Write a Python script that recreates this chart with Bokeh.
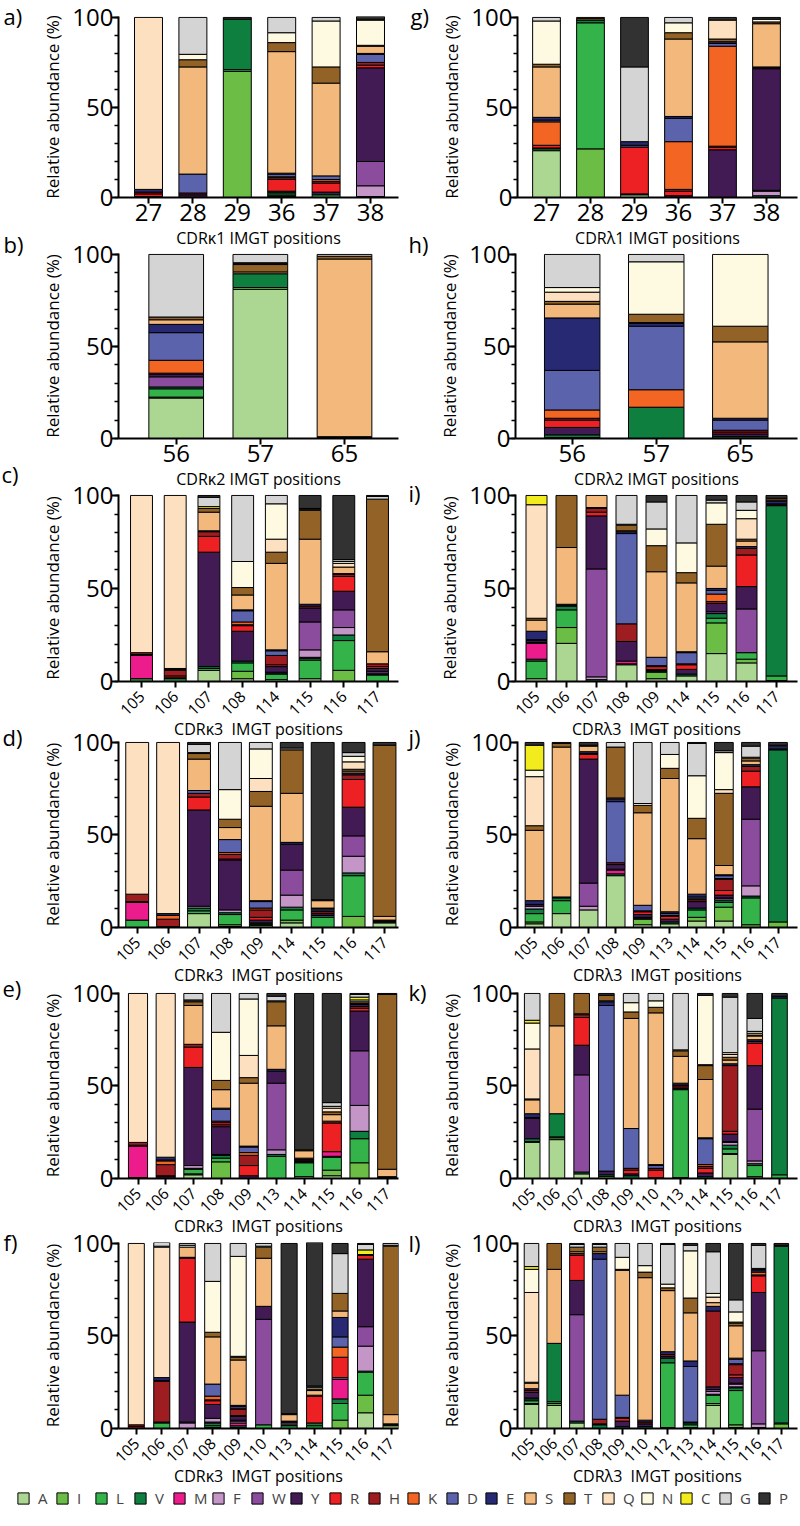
import math
from bokeh.plotting import figure
from bokeh.models import Range1d, FixedTicker, SingleIntervalTicker, Legend, LegendItem
from bokeh.layouts import column, row
from bokeh.embed import file_html
from bokeh.resources import INLINE

FONT = "Open Sans"

AA = ["A", "I", "L", "V", "M", "F", "W", "Y", "R", "H", "K", "D", "E", "S", "T", "Q", "N", "C", "G", "P"]
AA_COLORS = ["#acd793", "#6bbd45", "#34b34a", "#0f7f40", "#ec1c8d", "#c495c7", "#8b4c9e", "#421b55",
             "#ed2024", "#9e1d21", "#f26522", "#5b63ad", "#272a73", "#f3b87b", "#936226", "#fde0c0",
             "#fefae2", "#f2eb1e", "#d4d4d4", "#323232"]

# ---------------- data (percent of each residue at each position) ----------------
POS_A = ["27", "28", "29", "36", "37", "38"]
BARS_A = [
    {"Y": 0.5, "R": 1.5, "H": 1, "E": 1.5, "Q": 95.5},
    {"Y": 1.5, "H": 1, "D": 10.5, "S": 59.5, "T": 4, "N": 3, "G": 20.5},
    {"I": 70, "L": 1, "V": 28, "P": 1},
    {"A": 0.5, "I": 0.5, "L": 1, "V": 1, "Y": 0.5, "R": 6.5, "H": 1, "K": 0.5, "D": 1.5, "E": 0.5, "S": 67.5, "T": 5, "N": 5.5, "G": 8.5},
    {"L": 1.5, "Y": 1.5, "R": 5, "H": 1, "K": 1, "D": 2, "S": 51.5, "T": 9, "N": 25.5, "G": 2},
    {"V": 0.5, "F": 6, "W": 13.5, "Y": 52, "R": 1.5, "H": 1.5, "D": 4.5, "E": 0.5, "S": 4, "T": 0.5, "N": 14, "G": 0.5, "P": 1.5},
]

POS_G = ["27", "28", "29", "36", "37", "38"]
BARS_G = [
    {"A": 26, "L": 1, "V": 0.5, "R": 1.5, "K": 13, "D": 1, "E": 1.5, "S": 28, "T": 1.5, "N": 24, "G": 2},
    {"I": 27, "L": 70, "V": 1.5, "T": 1, "G": 0.5},
    {"A": 1.5, "Y": 0.5, "R": 26, "D": 1, "E": 2, "G": 41.5, "P": 27.5},
    {"Y": 1, "R": 2.5, "H": 1, "K": 26.5, "D": 13, "E": 1, "S": 43, "T": 3.5, "N": 5.5, "G": 3},
    {"Y": 26.5, "R": 1.5, "H": 0.5, "K": 55.5, "D": 1.5, "E": 1, "T": 1.5, "Q": 10.5, "P": 1.5},
    {"V": 1, "F": 2.5, "W": 0.5, "Y": 67.5, "H": 0.5, "E": 0.5, "S": 24, "T": 1, "N": 1.5, "P": 1},
]

POS_B = ["56", "57", "65"]
BARS_B = [
    {"A": 22, "I": 0.5, "L": 4.5, "V": 1, "W": 5.5, "Y": 1.5, "H": 0.5, "K": 7, "D": 15, "E": 4.5, "S": 2.5, "T": 1.5, "G": 34},
    {"A": 81, "I": 1, "V": 7.5, "S": 1, "T": 4, "Q": 0.5, "N": 0.5, "G": 4.5},
    {"Y": 0.5, "H": 0.5, "S": 96.5, "T": 1.5, "G": 1},
]

POS_H = ["56", "57", "65"]
BARS_H = [
    {"A": 0.5, "V": 1.5, "Y": 4, "R": 4, "H": 1, "K": 4.5, "D": 21.5, "E": 28.5, "S": 7.5, "T": 1.5, "Q": 5, "N": 2.5, "G": 18},
    {"V": 17, "K": 9.5, "D": 34.5, "E": 1.5, "S": 0.5, "T": 4.5, "N": 28.5, "G": 4},
    {"V": 1, "Y": 1.5, "R": 1, "H": 1, "D": 5.5, "E": 1, "S": 41.5, "T": 8.5, "N": 39},
]

POS_C = ["105", "106", "107", "108", "114", "115", "116", "117"]
BARS_C = [
    {"L": 1.5, "M": 12.5, "R": 0.5, "H": 1, "Q": 84.5},
    {"L": 1.5, "Y": 0.5, "R": 1, "H": 3, "K": 0.5, "E": 0.5, "Q": 93},
    {"A": 6, "L": 1, "V": 1, "Y": 61.5, "R": 8.5, "H": 2.5, "E": 0.5, "S": 10, "T": 2, "C": 1, "G": 5, "P": 1},
    {"A": 1.5, "I": 4, "L": 4.5, "V": 1, "Y": 16, "R": 3, "H": 0.5, "K": 1.5, "D": 6, "E": 0.5, "S": 8, "T": 4, "N": 14, "G": 35.5},
    {"A": 1, "L": 3, "V": 0.5, "W": 0.5, "Y": 3, "R": 1, "H": 5, "D": 2.5, "E": 0.5, "S": 46.5, "T": 6, "Q": 7, "N": 19, "G": 4.5},
    {"A": 1.5, "L": 10, "V": 1, "M": 0.5, "F": 4, "W": 15, "Y": 7.5, "H": 1, "E": 1, "S": 35, "T": 15.5, "Q": 0.5, "G": 0.5, "P": 7},
    {"I": 6, "L": 16, "V": 3, "F": 4, "W": 9.5, "Y": 10, "R": 8, "H": 1, "E": 0.5, "S": 3.5, "Q": 2, "N": 1, "G": 1, "P": 34.5},
    {"L": 3.5, "V": 0.5, "F": 0.5, "W": 1, "Y": 1.5, "R": 1, "H": 1.5, "S": 6.5, "T": 82, "G": 1.5, "P": 0.5},
]

POS_I = ["105", "106", "107", "108", "109", "114", "115", "116", "117"]
BARS_I = [
    {"A": 1.5, "L": 9.5, "V": 1, "M": 8.5, "W": 0.5, "Y": 1, "D": 0.5, "E": 4.5, "S": 6, "T": 1, "Q": 61, "C": 5},
    {"A": 20.5, "I": 8.5, "L": 9.5, "V": 2, "Y": 0.5, "E": 0.5, "S": 30.5, "T": 28},
    {"V": 1, "F": 1.5, "W": 58, "Y": 28.5, "R": 2, "H": 2, "E": 0.5, "S": 6.5},
    {"A": 9, "I": 0.5, "M": 1.5, "Y": 10.5, "H": 9.5, "D": 48.5, "E": 1, "S": 0.5, "T": 3, "N": 0.5, "G": 15.5},
    {"A": 1.5, "I": 3.5, "L": 0.5, "V": 0.5, "Y": 0.5, "R": 1.5, "H": 0.5, "D": 4.5, "S": 46, "T": 14, "N": 9, "G": 14.5, "P": 3.5},
    {"A": 3, "V": 1, "Y": 2.5, "R": 2.5, "H": 0.5, "D": 6, "E": 0.5, "S": 37, "T": 5.5, "N": 16, "G": 25.5},
    {"A": 15, "I": 16.5, "L": 2.5, "V": 2.5, "W": 1, "Y": 4.5, "H": 1, "K": 4, "D": 2, "E": 1, "S": 12, "T": 22.5, "N": 11.5, "G": 1.5, "P": 2.5},
    {"A": 10, "I": 2, "L": 3.5, "W": 23.5, "Y": 12, "R": 17, "H": 3.5, "E": 1, "S": 3, "T": 1, "Q": 11, "N": 4.5, "G": 4.5, "P": 3.5},
    {"A": 0.5, "L": 2.5, "V": 91.5, "Y": 0.5, "H": 0.5, "E": 1.5, "S": 0.5, "T": 1, "P": 1.5},
]

POS_D = ["105", "106", "107", "108", "109", "114", "115", "116", "117"]
BARS_D = [
    {"L": 4, "M": 9.5, "R": 0.5, "H": 4, "Q": 82},
    {"Y": 0.5, "H": 4, "K": 2, "E": 1, "Q": 92.5},
    {"A": 7.5, "L": 1.5, "V": 1.5, "F": 1, "Y": 52, "R": 7, "H": 2, "D": 1.5, "S": 17, "T": 3, "N": 0.5, "G": 4.5, "P": 1},
    {"A": 0.5, "I": 1, "L": 5.5, "V": 1, "F": 1.5, "Y": 27, "R": 0.5, "H": 2.5, "K": 1, "D": 7, "S": 6.5, "T": 4.5, "N": 16, "G": 25.5},
    {"A": 1, "I": 0.5, "L": 0.5, "V": 0.5, "Y": 1.5, "R": 1.5, "H": 4, "K": 1, "D": 3.5, "E": 0.5, "S": 51, "T": 8, "Q": 7, "N": 16, "G": 3.5},
    {"A": 2.5, "I": 1.5, "L": 5.5, "V": 1.5, "F": 6.5, "W": 13.5, "Y": 14, "E": 1, "S": 26.5, "T": 23.5, "G": 1, "P": 3},
    {"L": 5.5, "V": 1, "Y": 1, "R": 1, "H": 0.5, "D": 1, "E": 0.5, "S": 4, "T": 0.5, "P": 85},
    {"I": 6, "L": 22, "V": 1.5, "F": 9, "W": 11, "Y": 15.5, "R": 15, "H": 2.5, "E": 1, "S": 1, "T": 1, "Q": 4, "N": 3, "G": 2, "P": 5.5},
    {"A": 2.5, "V": 0.5, "Y": 0.5, "H": 0.5, "S": 2, "T": 92.5, "P": 1.5},
]

POS_J = ["105", "106", "107", "108", "109", "113", "114", "115", "116", "117"]
BARS_J = [
    {"A": 2, "I": 1, "L": 4.5, "V": 2.5, "F": 1.5, "Y": 1, "E": 2, "S": 38, "T": 2.5, "Q": 26.5, "N": 3.5, "C": 13.5, "P": 1.5},
    {"A": 7.5, "L": 7, "V": 1.5, "E": 0.5, "S": 81, "T": 2, "P": 0.5},
    {"A": 9.5, "F": 2, "W": 12.5, "Y": 67, "R": 2.5, "H": 0.5, "E": 1, "S": 3, "T": 0.5, "P": 1.5},
    {"A": 28, "V": 1, "M": 2, "W": 0.5, "Y": 2.5, "H": 1, "D": 33, "E": 1.5, "S": 0.5, "T": 27.5, "G": 2.5},
    {"A": 1.5, "I": 3, "V": 0.5, "W": 0.5, "Y": 1.5, "R": 1.5, "H": 0.5, "D": 3, "S": 50, "T": 4, "N": 1, "G": 33},
    {"A": 2, "V": 1, "Y": 1.5, "R": 1.5, "H": 0.5, "D": 1, "E": 1, "S": 72, "T": 5.5, "N": 7.5, "G": 6.5},
    {"A": 3.5, "I": 2, "L": 4, "V": 1, "Y": 3.5, "H": 1, "K": 0.5, "D": 1, "E": 1.5, "S": 30, "T": 11, "N": 23, "G": 17.5, "P": 0.5},
    {"A": 3.5, "I": 7.5, "L": 2.5, "V": 1, "F": 1, "W": 0.5, "Y": 1.5, "R": 2.5, "H": 6, "K": 0.5, "D": 1.5, "E": 0.5, "S": 5, "T": 39, "Q": 2, "N": 20, "G": 1, "P": 4.5},
    {"I": 1.5, "L": 14.5, "V": 1, "F": 5.5, "W": 36, "Y": 17.5, "R": 8.5, "H": 2.5, "E": 1, "S": 2, "T": 1.5, "N": 0.5, "G": 6, "P": 2},
    {"I": 3, "V": 93, "Y": 0.5, "E": 1.5, "S": 0.5, "P": 1.5},
]

POS_E = ["105", "106", "107", "108", "109", "113", "114", "115", "116", "117"]
BARS_E = [
    {"V": 0.5, "M": 17, "R": 0.5, "H": 1.5, "Q": 80.5},
    {"Y": 1, "R": 0.5, "H": 6, "K": 2, "D": 0.5, "E": 1.5, "Q": 88.5},
    {"A": 2, "I": 0.5, "L": 2.5, "V": 0.5, "F": 1.5, "Y": 53, "R": 11, "H": 1.5, "S": 21, "T": 2, "Q": 0.5, "N": 0.5, "G": 3.5},
    {"I": 9, "L": 2, "V": 1.5, "W": 0.5, "Y": 15, "R": 1, "H": 1.5, "K": 0.5, "D": 6.5, "E": 0.5, "S": 10, "T": 5, "N": 26, "G": 21},
    {"Y": 1.5, "R": 5.5, "H": 5.5, "K": 1.5, "D": 3, "E": 0.5, "S": 34, "T": 3, "Q": 12, "N": 30.5, "G": 3},
    {"L": 12, "V": 1, "F": 2.5, "W": 36, "Y": 6.5, "E": 1, "S": 23.5, "T": 13, "N": 0.5, "G": 2.5, "P": 1.5},
    {"A": 1, "L": 7.5, "V": 0.5, "Y": 0.5, "R": 0.5, "H": 0.5, "E": 0.5, "S": 4, "T": 0.5, "P": 84.5},
    {"A": 1.5, "I": 3, "L": 7, "V": 0.5, "M": 2.5, "R": 15.5, "H": 1, "S": 3.5, "T": 1.5, "Q": 2, "N": 1, "G": 2, "P": 59},
    {"I": 8.5, "L": 13, "V": 4, "F": 14, "W": 29.5, "Y": 21.5, "R": 1.5, "H": 1, "E": 1, "S": 0.5, "T": 1, "N": 1, "C": 1.5, "G": 1.5, "P": 0.5},
    {"V": 0.5, "Y": 0.5, "S": 4, "T": 94.5, "P": 0.5},
]

POS_K = ["105", "106", "107", "108", "109", "110", "113", "114", "115", "116", "117"]
BARS_K = [
    {"A": 19.5, "I": 0.5, "V": 1.5, "Y": 11, "H": 0.5, "E": 2, "S": 7.5, "T": 0.5, "Q": 27, "N": 14, "C": 1.5, "G": 14.5},
    {"A": 21, "I": 1, "L": 0.5, "V": 12.5, "S": 47.5, "T": 17.5},
    {"A": 2.5, "V": 1, "W": 52.5, "Y": 16, "R": 15, "H": 1.5, "S": 0.5, "T": 11},
    {"A": 1, "V": 1, "Y": 2, "D": 89.5, "E": 2, "S": 0.5, "T": 3, "P": 1},
    {"V": 1.5, "Y": 1, "R": 2, "H": 1, "D": 21.5, "S": 59.5, "T": 3.5, "N": 5, "G": 5},
    {"Y": 0.5, "R": 4, "H": 1, "D": 1.5, "E": 0.5, "S": 82, "T": 3, "N": 3.5, "G": 4},
    {"A": 0.5, "L": 47.5, "V": 0.5, "Y": 0.5, "R": 1, "H": 0.5, "E": 1, "S": 14.5, "T": 3, "N": 0.5, "G": 30.5},
    {"V": 1, "Y": 2, "R": 2.5, "H": 1, "K": 1, "D": 14, "E": 0.5, "S": 31.5, "T": 7.5, "Q": 0.5, "N": 37.5, "P": 1},
    {"A": 13, "I": 0.5, "L": 2.5, "V": 2, "F": 1.5, "W": 0.5, "Y": 4, "R": 1.5, "H": 35.5, "E": 1, "S": 2, "T": 1.5, "Q": 1.5, "N": 1, "G": 30, "P": 2},
    {"I": 1, "L": 6, "V": 1, "F": 1.5, "W": 28, "Y": 23.5, "R": 12, "H": 1, "E": 1, "S": 2, "T": 0.5, "Q": 1, "N": 1, "G": 7, "P": 13.5},
    {"L": 2, "V": 95.5, "E": 1, "P": 1.5},
]

POS_F = ["105", "106", "107", "108", "109", "110", "113", "114", "115", "116", "117"]
BARS_F = [
    {"R": 1, "H": 1, "Q": 98},
    {"L": 3, "V": 0.5, "H": 22, "D": 0.5, "E": 1.5, "Q": 70.5, "N": 0.5, "G": 2},
    {"F": 3, "W": 0.5, "Y": 54, "R": 34.5, "H": 0.5, "S": 5.5, "N": 1, "G": 1},
    {"I": 0.5, "L": 1, "V": 1.5, "M": 0.5, "F": 2, "Y": 7.5, "R": 2, "H": 0.5, "K": 2, "D": 6.5, "S": 25.5, "T": 2.5, "N": 27.5, "G": 20.5},
    {"L": 0.5, "V": 1, "M": 1.5, "F": 1, "W": 0.5, "Y": 2, "R": 0.5, "H": 3.5, "K": 0.5, "D": 1, "E": 0.5, "S": 24.5, "T": 1.5, "Q": 0.5, "N": 54, "G": 7},
    {"L": 2, "W": 57, "Y": 7, "S": 26, "T": 6, "N": 0.5, "G": 1.5},
    {"L": 1.5, "V": 0.5, "F": 1, "W": 0.5, "E": 0.5, "S": 3.5, "T": 0.5, "P": 92},
    {"L": 1.5, "V": 1.5, "R": 14.5, "H": 0.5, "S": 2.5, "T": 0.5, "Q": 1, "N": 0.5, "G": 0.5, "P": 77.5},
    {"I": 4.5, "L": 9, "V": 2.5, "M": 10.5, "W": 1, "R": 11, "K": 5.5, "D": 5.5, "E": 10.5, "S": 3.5, "T": 9.5, "G": 21.5, "P": 5.5},
    {"A": 8.5, "I": 9.5, "L": 12.5, "V": 0.5, "F": 13.5, "W": 10.5, "Y": 36.5, "R": 2, "H": 0.5, "C": 2.5, "G": 3, "P": 0.5},
    {"A": 1.5, "V": 0.5, "Y": 0.5, "S": 5, "T": 91, "N": 0.5, "G": 1},
]

POS_L = ["105", "106", "107", "108", "109", "110", "112", "113", "114", "115", "116", "117"]
BARS_L = [
    {"A": 13, "I": 0.5, "L": 1.5, "V": 1, "W": 0.5, "Y": 3, "H": 1, "E": 1, "S": 3, "T": 0.5, "Q": 48.5, "N": 12.5, "C": 1.5, "G": 12.5},
    {"A": 12.5, "I": 1, "L": 1, "V": 31.5, "S": 40, "T": 14},
    {"A": 3, "V": 1, "W": 57.5, "Y": 18.5, "R": 13.5, "H": 1, "S": 1, "T": 2.5, "G": 1.5, "P": 0.5},
    {"V": 2, "Y": 0.5, "H": 2.5, "D": 86.5, "E": 3, "S": 1, "T": 2.5, "G": 1.5, "P": 0.5},
    {"V": 1, "Y": 3, "R": 1.5, "H": 0.5, "D": 12, "S": 67.5, "T": 0.5, "N": 6.5, "G": 7.5},
    {"V": 1, "Y": 1.5, "H": 1, "E": 1, "S": 77, "T": 3, "N": 3.5, "G": 12},
    {"A": 0.5, "L": 35, "V": 2.5, "Y": 1, "H": 1, "E": 1.5, "S": 33, "T": 1.5, "N": 2, "G": 21.5, "P": 0.5},
    {"A": 0.5, "L": 1.5, "V": 1, "Y": 0.5, "D": 30, "E": 3, "S": 26, "T": 8, "N": 25.5, "G": 3, "P": 1},
    {"A": 12.5, "I": 1, "L": 4.5, "V": 0.5, "F": 1.5, "W": 1, "Y": 1.5, "H": 41, "E": 2.5, "S": 2, "Q": 3, "N": 2, "G": 22.5, "P": 4.5},
    {"A": 0.5, "I": 1.5, "L": 18.5, "V": 1.5, "M": 0.5, "F": 1.5, "W": 0.5, "Y": 3, "R": 1.5, "H": 5.5, "K": 0.5, "D": 2.5, "E": 0.5, "S": 17.5, "T": 1.5, "Q": 0.5, "N": 5.5, "G": 6.5, "P": 30.5},
    {"V": 0.5, "F": 2, "W": 39.5, "Y": 31.5, "R": 9, "H": 0.5, "K": 1.5, "E": 1, "S": 0.5, "T": 0.5, "G": 12.5, "P": 1},
    {"I": 2.5, "L": 0.5, "V": 95.5, "E": 0.5, "P": 1},
]

K1 = "CDR\u03ba1 IMGT positions"
K2 = "CDR\u03ba2 IMGT positions"
K3 = "CDR\u03ba3\u00a0 IMGT positions"
L1 = "CDR\u03bb1 IMGT positions"
L2 = "CDR\u03bb2 IMGT positions"
L3 = "CDR\u03bb3\u00a0 IMGT positions"

# ---------------- layout (page pixel positions) ----------------
FIG_W = 400
COL_LEFT = [0, 400]
FRAME_RIGHT = [398, 797]
FRAME_TOP = [16, 253, 494, 741, 992, 1242]
FRAME_H = [181, 185, 187, 186, 186, 186]
BT, BB = 50, 72
YTOP = 100.5


def make_panel(pos, bars, col, rw, frame_left, first, last, bw, xtitle, rotated, tag, tag_x, tag_y):
    n = len(pos)
    ppu = (last - first) / (n - 1)
    fr = FRAME_RIGHT[col]
    x0 = -(first - frame_left) / ppu
    x1 = (n - 1) + (fr - last) / ppu
    fh = FRAME_H[rw]
    p = figure(width=FIG_W, height=BT + fh + BB, x_range=Range1d(x0, x1), y_range=Range1d(0, YTOP),
               output_backend="svg", toolbar_location=None,
               min_border_left=frame_left - COL_LEFT[col], min_border_right=COL_LEFT[col] + FIG_W - fr,
               min_border_top=BT, min_border_bottom=BB)
    p.outline_line_color = None
    p.background_fill_alpha = 0
    p.border_fill_alpha = 0
    p.xgrid.visible = False
    p.ygrid.visible = False

    # panel tag, e.g. "a)"
    p.title.text = tag
    p.title.align = "left"
    p.title.offset = tag_x - frame_left
    p.title.vertical_align = "bottom"
    p.title.standoff = -2 * ((tag_y - FRAME_TOP[rw]) + 15)
    p.title.text_font = FONT
    p.title.text_font_size = "22px"
    p.title.text_font_style = "normal"
    p.title.text_color = "black"

    cum = [0.0] * n
    for k, aa in enumerate(AA):
        xs, bs, ts = [], [], []
        for j, bar in enumerate(bars):
            v = bar.get(aa, 0)
            if v > 0:
                xs.append(j)
                bs.append(cum[j])
                ts.append(cum[j] + v)
                cum[j] += v
        if xs:
            p.vbar(x=xs, bottom=bs, top=ts, width=bw, fill_color=AA_COLORS[k],
                   line_color="black", line_width=1)

    xa = p.xaxis[0]
    xa.ticker = FixedTicker(ticks=list(range(n)))
    xa.major_label_overrides = {i: s for i, s in enumerate(pos)}
    xa.axis_line_width = 2
    xa.major_tick_line_width = 2
    xa.major_tick_out = 6
    xa.major_tick_in = 0
    xa.minor_tick_out = 0
    xa.minor_tick_in = 0
    xa.major_label_text_font = FONT
    xa.major_label_text_color = "black"
    xa.axis_label = xtitle
    xa.axis_label_text_font = FONT
    xa.axis_label_text_font_style = "normal"
    xa.axis_label_text_font_size = "16px"
    xa.axis_label_text_color = "black"
    if rotated:
        xa.major_label_orientation = math.pi / 4
        xa.major_label_text_font_size = "15.5px"
        xa.major_label_standoff = 6
        xa.axis_label_standoff = -6
    else:
        xa.major_label_text_font_size = "24px"
        xa.major_label_standoff = 0
        xa.axis_label_standoff = 3

    ya = p.yaxis[0]
    ya.ticker = SingleIntervalTicker(interval=50, num_minor_ticks=5)
    ya.axis_line_width = 2
    ya.major_tick_line_width = 2
    ya.minor_tick_line_width = 1.5
    ya.major_tick_out = 7
    ya.major_tick_in = 0
    ya.minor_tick_out = 4
    ya.minor_tick_in = 0
    ya.major_label_standoff = -2
    ya.major_label_text_font = FONT
    ya.major_label_text_font_size = "24px"
    ya.major_label_text_color = "black"
    ya.axis_label = "Relative abundance (%)"
    ya.axis_label_text_font = FONT
    ya.axis_label_text_font_style = "normal"
    ya.axis_label_text_font_size = "17px"
    ya.axis_label_text_color = "black"
    ya.axis_label_standoff = 5
    return p


pa = make_panel(POS_A, BARS_A, 0, 0, 118, 148, 370, 0.63, K1, False, "a)", 3, 15)
pg = make_panel(POS_G, BARS_G, 1, 0, 517, 546, 766, 0.63, L1, False, "g)", 410, 15)
pb = make_panel(POS_B, BARS_B, 0, 1, 118, 175.7, 344, 0.65, K2, False, "b)", 3, 243)
ph = make_panel(POS_H, BARS_H, 1, 1, 515, 571.7, 739.8, 0.66, L2, False, "h)", 408, 243)
pc = make_panel(POS_C, BARS_C, 0, 2, 118, 141, 377, 0.65, K3, True, "c)", 1, 473)
pi_ = make_panel(POS_I, BARS_I, 1, 2, 515, 536, 776, 0.70, L3, True, "i)", 408, 492)
pd = make_panel(POS_D, BARS_D, 0, 3, 118, 136.7, 384, 0.74, K3, True, "d)", 2, 736)
pj = make_panel(POS_J, BARS_J, 1, 3, 517, 534, 777.5, 0.69, L3, True, "j)", 408, 736)
pe = make_panel(POS_E, BARS_E, 0, 4, 118, 137.5, 386.7, 0.69, K3, True, "e)", 2, 987)
pk = make_panel(POS_K, BARS_K, 1, 4, 517, 531.7, 779, 0.63, L3, True, "k)", 408, 991)
pf = make_panel(POS_F, BARS_F, 0, 5, 118, 135.8, 390.5, 0.63, K3, True, "f)", 3, 1241)
pl = make_panel(POS_L, BARS_L, 1, 5, 517, 531, 780.8, 0.64, L3, True, "l)", 408, 1242)

# legend strip
LEG_TOP, LEG_H = 1478, 42
leg = figure(width=800, height=LEG_H, x_range=Range1d(0, 1), y_range=Range1d(0, 1),
             x_axis_type=None, y_axis_type=None, output_backend="svg", toolbar_location=None,
             min_border_left=0, min_border_right=0, min_border_top=0, min_border_bottom=0)
leg.outline_line_color = None
leg.background_fill_alpha = 0
leg.border_fill_alpha = 0
items = []
for k, aa in enumerate(AA):
    r = leg.vbar(x=[-10], bottom=[-10], top=[-9], width=0.5, fill_color=AA_COLORS[k],
                 line_color="black", line_width=1)
    items.append(LegendItem(label=aa, renderers=[r]))
legend = Legend(items=items, orientation="horizontal", location=(16, 12),
                glyph_width=14, glyph_height=14, label_standoff=8, label_width=16, label_height=14,
                spacing=1, padding=0, margin=0, border_line_color=None, background_fill_alpha=0,
                label_text_font=FONT, label_text_font_size="15px", label_text_baseline="middle")
leg.add_layout(legend, "center")

rows = [(pa, pg), (pb, ph), (pc, pi_), (pd, pj), (pe, pk), (pf, pl)]
children = []
prev_bottom = 0
for i, (left, right) in enumerate(rows):
    top = FRAME_TOP[i] - BT
    children.append(row(left, right, margin=(top - prev_bottom, 0, 0, 0)))
    prev_bottom = top + BT + FRAME_H[i] + BB
leg.margin = (LEG_TOP - prev_bottom, 0, 0, 0)
children.append(leg)

layout = column(*children)
open("out.html", "w").write(file_html(layout, INLINE))
